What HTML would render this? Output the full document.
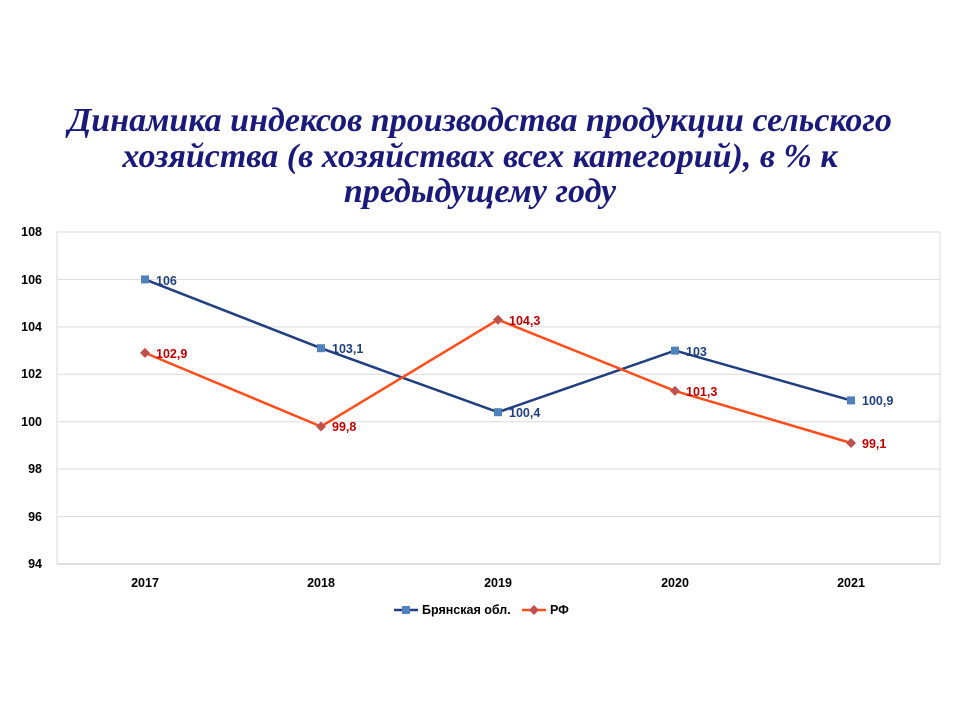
<!DOCTYPE html>
<html><head><meta charset="utf-8"><style>
body{margin:0;width:960px;height:720px;background:#fff;overflow:hidden}
.t{position:absolute;left:0;width:960px;text-align:center;font-family:"Liberation Serif",serif;font-weight:bold;font-style:italic;color:#1a1a7a;font-size:34px;line-height:35.5px;top:103px}
</style></head><body>
<div class="t">Динамика индексов производства продукции сельского<br>хозяйства (в хозяйствах всех категорий), в % к<br>предыдущему году</div>
<svg width="960" height="720" style="position:absolute;left:0;top:0" font-family="Liberation Sans, sans-serif" font-weight="bold">
<g stroke="#d9d9d9" stroke-width="1">
<line x1="57" x2="940" y1="232" y2="232"/><line x1="57" x2="940" y1="279.4" y2="279.4"/><line x1="57" x2="940" y1="326.9" y2="326.9"/><line x1="57" x2="940" y1="374.3" y2="374.3"/><line x1="57" x2="940" y1="421.7" y2="421.7"/><line x1="57" x2="940" y1="469.1" y2="469.1"/><line x1="57" x2="940" y1="516.6" y2="516.6"/>
<line x1="57" x2="57" y1="232" y2="564"/><line x1="940" x2="940" y1="232" y2="564"/>
</g>
<line x1="57" x2="940" y1="564" y2="564" stroke="#bfbfbf"/>
<g font-size="12.5" fill="#000" text-anchor="end">
<text x="42" y="236">108</text><text x="42" y="284">106</text><text x="42" y="331">104</text><text x="42" y="378">102</text><text x="42" y="426">100</text><text x="42" y="473">98</text><text x="42" y="521">96</text><text x="42" y="568">94</text>
</g>
<g font-size="12.5" fill="#000" text-anchor="middle">
<text x="145" y="587">2017</text><text x="321" y="587">2018</text><text x="498" y="587">2019</text><text x="675" y="587">2020</text><text x="851" y="587">2021</text>
</g>
<polyline fill="none" stroke="#1f3f80" stroke-width="2.5" points="145,279.4 321,348.2 498,412.2 675,350.6 851,400.4"/>
<polyline fill="none" stroke="#ff4d1a" stroke-width="2.5" points="145,352.9 321,426.5 498,319.7 675,390.9 851,443"/>
<g fill="#4f81bd"><rect x="141" y="275.4" width="8" height="8"/><rect x="317" y="344.2" width="8" height="8"/><rect x="494" y="408.2" width="8" height="8"/><rect x="671" y="346.6" width="8" height="8"/><rect x="847" y="396.4" width="8" height="8"/></g>
<g fill="#c0504d"><path d="M145 347.9l5 5-5 5-5-5z"/><path d="M321 421.5l5 5-5 5-5-5z"/><path d="M498 314.7l5 5-5 5-5-5z"/><path d="M675 385.9l5 5-5 5-5-5z"/><path d="M851 438l5 5-5 5-5-5z"/></g>
<g font-size="12.5" fill="#1f3f80"><text x="156" y="285">106</text><text x="332" y="353">103,1</text><text x="509" y="417">100,4</text><text x="686" y="356">103</text><text x="862" y="405">100,9</text></g>
<g font-size="12.5" fill="#c00000"><text x="156" y="358">102,9</text><text x="332" y="431">99,8</text><text x="509" y="325">104,3</text><text x="686" y="396">101,3</text><text x="862" y="448">99,1</text></g>
<line x1="394" x2="418" y1="610" y2="610" stroke="#1f3f80" stroke-width="2.5"/><rect x="402" y="606" width="8" height="8" fill="#4f81bd"/>
<text x="422" y="614" font-size="12.5">Брянская обл.</text>
<line x1="522" x2="546" y1="610" y2="610" stroke="#ff4d1a" stroke-width="2.5"/><path d="M534 605l5 5-5 5-5-5z" fill="#c0504d"/>
<text x="550" y="614" font-size="12.5">РФ</text>
</svg>
</body></html>
